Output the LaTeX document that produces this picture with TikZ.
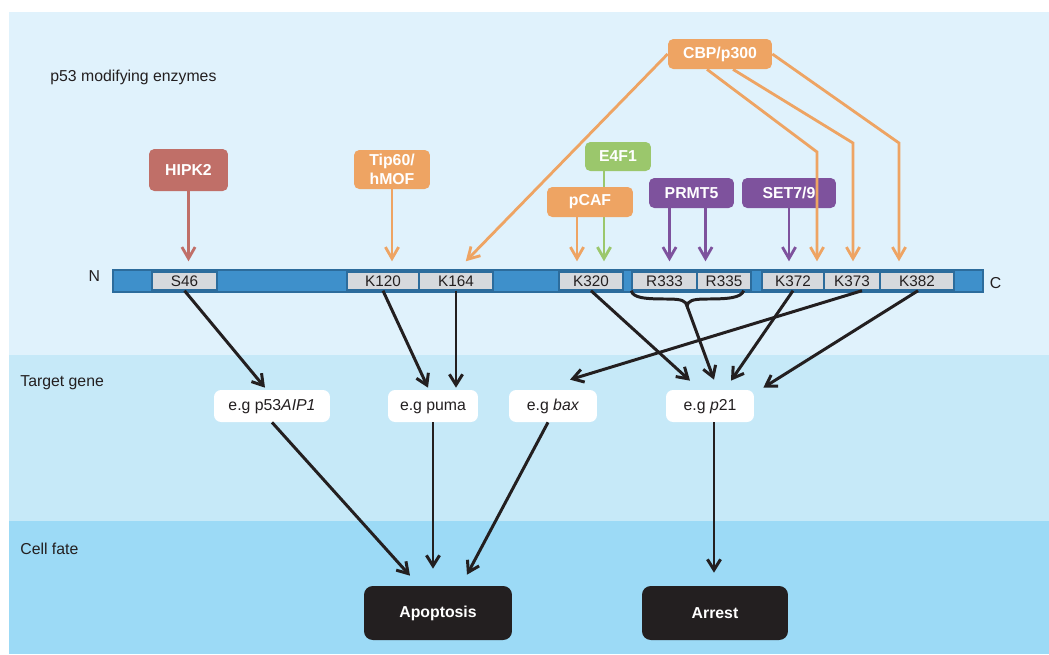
\documentclass[tikz,border=0pt]{standalone}
\usepackage{fontspec}
\setmainfont{Liberation Sans}
\usetikzlibrary{arrows.meta,calc}
\definecolor{acikMavi}{HTML}{E0F2FC}
\definecolor{ortaMavi}{HTML}{C6E9F8}
\definecolor{koyuMavi}{HTML}{9CDAF6}
\definecolor{zincirMavi}{HTML}{3E90CB}
\definecolor{zincirKenar}{HTML}{2C6C9C}
\definecolor{siteGri}{HTML}{D6D9DD}
\definecolor{kiremit}{HTML}{C06F68}
\definecolor{turuncu}{HTML}{EEA463}
\definecolor{yesil}{HTML}{9BC76C}
\definecolor{mor}{HTML}{7E529D}
\definecolor{siyah}{HTML}{231F20}

\begin{document}
\begin{tikzpicture}[x=0.02cm,y=0.02cm,
  every node/.style={font=\fontsize{9}{10.5}\selectfont,text=siyah},
  baslik/.style={anchor=west,inner sep=0pt},
  enzim/.style={fill=#1,rounded corners=3pt,text=white,inner sep=0pt,align=center,
    font=\bfseries\fontsize{9}{10.5}\selectfont},
  site/.style={fill=siteGri,draw=zincirKenar,line width=0.8pt,inner sep=0pt,
    minimum height=0.36cm,font=\fontsize{8.7}{10}\selectfont},
  gen/.style={fill=white,rounded corners=4pt,inner sep=0pt,minimum height=0.64cm,
    text height=6.5pt,text depth=1.8pt},
  sonuc/.style={fill=siyah,rounded corners=5pt,text=white,inner sep=0pt,
    minimum height=1.08cm,font=\bfseries\fontsize{9}{10.5}\selectfont},
  okR/.style={draw=#1,line width=1.6pt,-{Straight Barb[length=6.5pt,width=7.5pt]},shorten >=0.2cm},
  okS/.style={draw=siyah,line width=1.7pt,-{Straight Barb[length=6pt,width=7.5pt]}}]
\useasboundingbox (0,0) rectangle (1049,-654);
% arka plan bantlari
\fill[acikMavi] (9,-12) rectangle (1049,-355);
\fill[ortaMavi] (9,-355) rectangle (1049,-521);
\fill[koyuMavi] (9,-521) rectangle (1049,-654);
\node[baslik] (enzimBaslik) at (50,-77) {p53 modifying enzymes};
\node[baslik] (genBaslik) at (20,-383) {Target gene};
\node[baslik] (kaderBaslik) at (20,-549) {Cell fate};
% p53 zinciri
\node[fill=zincirMavi,draw=zincirKenar,line width=0.8pt,inner sep=0pt,
  minimum width=17.4cm,minimum height=0.44cm] (zincir) at (548,-281) {};
\node[inner sep=0pt] (nUc) at ($(zincir.west)+(-18,5)$) {N};
\node[inner sep=0pt] (cUc) at ($(zincir.east)+(12,-2)$) {C};
\node[site,minimum width=1.3cm] (S46) at (184.5,-281) {S46};
\node[site,minimum width=1.44cm] (K120) at (383,-281) {K120};
\node[site,minimum width=1.48cm] (K164) at (456,-281) {K164};
\node[site,minimum width=1.28cm] (K320) at (591,-281) {K320};
\node[site,minimum width=1.3cm] (R333) at (664.5,-281) {R333};
\node[site,minimum width=1.08cm] (R335) at (724,-281) {R335};
\node[site,minimum width=1.24cm] (K372) at (793,-281) {K372};
\node[site,minimum width=1.12cm] (K373) at (852,-281) {K373};
\node[site,minimum width=1.48cm] (K382) at (917,-281) {K382};
% enzimler
\node[enzim=kiremit,minimum width=1.58cm,minimum height=0.84cm] (hipk) at (188.5,-170) {HIPK2};
\node[enzim=turuncu,minimum width=1.52cm,minimum height=0.78cm] (tip) at (392,-169.5) {Tip60/\\hMOF};
\node[enzim=yesil,minimum width=1.32cm,minimum height=0.58cm] (e4f) at (618,-156.5) {E4F1};
\coordinate (e4fAlt) at ($(e4f.south)+(-14,0)$);
\draw[okR=yesil] (e4fAlt) -- (e4fAlt |- K320.north);
\node[enzim=turuncu,minimum width=1.72cm,minimum height=0.6cm] (pcaf) at (590,-202) {pCAF};
\node[enzim=mor,minimum width=1.7cm,minimum height=0.6cm] (prmt) at (691.5,-193) {PRMT5};
\node[enzim=mor,minimum width=1.88cm,minimum height=0.6cm] (setE) at (789,-193) {SET7/9};
\node[enzim=turuncu,minimum width=2.08cm,minimum height=0.6cm] (cbp) at (720,-54) {CBP/p300};
% enzim oklari
\draw[okR=kiremit] (hipk) -- (hipk |- S46.north);
\draw[okR=turuncu] (tip) -- (tip |- K120.north);
\coordinate (pcafAlt) at ($(pcaf.south)+(-13,0)$);
\draw[okR=turuncu] (pcafAlt) -- (pcafAlt |- K320.north);
\coordinate (prmtA) at ($(prmt.south)+(-22,0)$);
\coordinate (prmtB) at ($(prmt.south)+(14,0)$);
\draw[okR=mor] (prmtA) -- (prmtA |- R333.north);
\draw[okR=mor] (prmtB) -- (prmtB |- R335.north);
\draw[okR=mor] (setE) -- (setE |- K372.north);
% CBP/p300 kollari
\draw[okR=turuncu,shorten >=0.28cm] (cbp.west) -- (K164.north);
\coordinate (cbpA) at ($(cbp.south)+(-13,0)$);
\coordinate (cbpB) at ($(cbp.south)+(13,0)$);
\coordinate (bukA) at (817,-152);
\coordinate (bukB) at (853,-143);
\coordinate (bukC) at (899,-143);
\draw[okR=turuncu] (cbpA) -- (bukA) -- (bukA |- K372.north);
\draw[okR=turuncu] (cbpB) -- (bukB) -- (bukB |- K373.north);
\draw[okR=turuncu] (cbp.east) -- (bukC) -- (bukC |- K382.north);
% hedef genler
\node[gen,minimum width=2.32cm] (p53aip) at (272,-406) {e.g p53\textit{AIP1}};
\node[gen,minimum width=1.8cm] (puma) at (433,-406) {e.g puma};
\node[gen,minimum width=1.76cm] (bax) at (553,-406) {e.g \textit{bax}};
\node[gen,minimum width=1.76cm] (p21) at (710,-406) {e.g \textit{p}21};
% hucre kaderi
\node[sonuc,minimum width=2.96cm] (apop) at (438,-613) {Apoptosis};
\node[sonuc,minimum width=2.92cm] (arrest) at (715,-613) {Arrest};
% R333/R335 parantez
\coordinate (kume) at (687,-306);
\draw[siyah,line width=1.7pt] (R333.south west) .. controls (633,-298) and (645,-299) .. (668,-299)
  .. controls (682,-299) and (686,-301) .. (kume)
  .. controls (688,-301) and (692,-299) .. (706,-299)
  .. controls (728,-299) and (741,-298) .. ($(R335.south east)+(-8,0)$);
% siteden gene
\draw[okS] (S46.south) -- ($(p53aip.north)+(-7,2)$);
\draw[okS] (K120.south) -- ($(puma.north)+(-5,2)$);
\draw[okS] (K164.south) -- ($(K164.south |- puma.north)+(0,2)$);
\draw[okS] ($(K373.south)+(10,0)$) -- ($(bax.north)+(17,10)$);
\draw[okS] (K320.south) -- ($(p21.north)+(-20,9)$);
\draw[okS] (kume) -- ($(p21.north)+(4,10)$);
\draw[okS] (K372.south) -- ($(p21.north)+(21,9)$);
\draw[okS] ($(K382.south)+(1,0)$) -- ($(p21.north east)+(9,2)$);
% genden kadere
\draw[okS] (p53aip.south) -- ($(apop.north)+(-28,10)$);
\draw[okS] (puma.south) -- ($(apop.north)+(-5,17)$);
\draw[okS] ($(bax.south)+(-5,0)$) -- ($(apop.north)+(29,11)$);
\draw[okS] ($(p21.south)+(4,0)$) -- ($(arrest.north)+(-1,13)$);
\end{tikzpicture}
\end{document}
